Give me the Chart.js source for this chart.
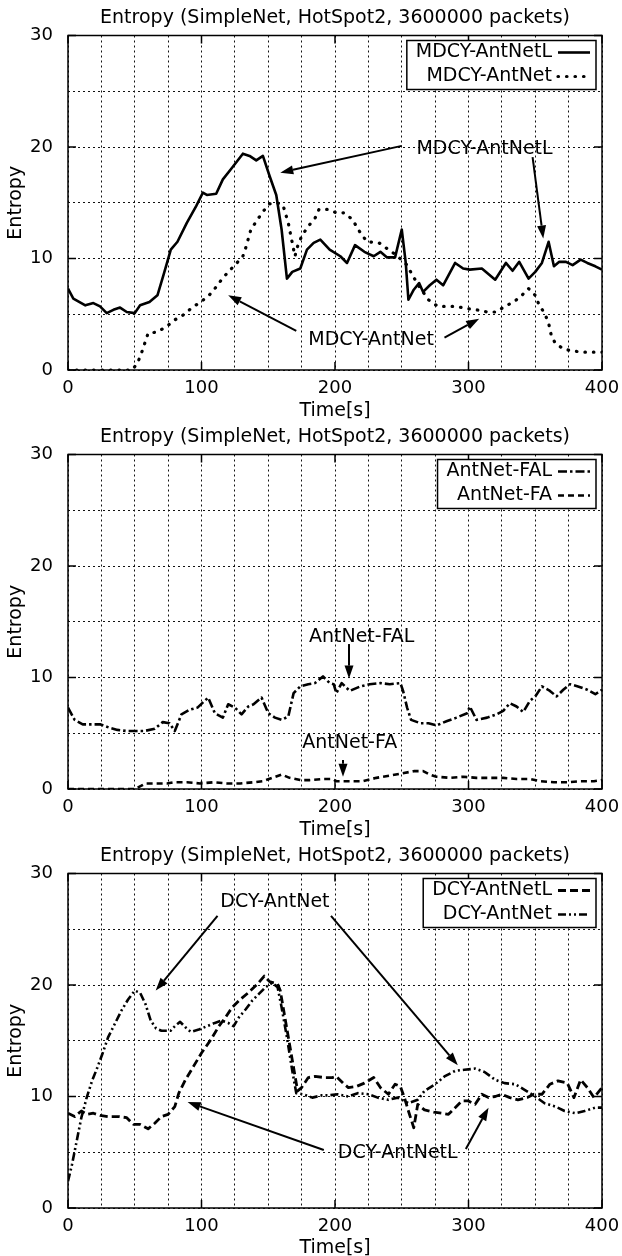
<!DOCTYPE html>
<html>
<head>
<meta charset="utf-8">
<script src="https://cdn.jsdelivr.net/npm/chart.js@4.4.1/dist/chart.umd.min.js"></script>
<style>
  body { margin: 0; background: #fff; }
  canvas { display: block; }
</style>
</head>
<body>
<canvas id="panel1" width="622" height="419"></canvas>
<canvas id="panel2" width="622" height="419"></canvas>
<canvas id="panel3" width="622" height="418"></canvas>
<script>
// Tick labels
const timeTicks = [0, 100, 200, 300, 400];
const entropyTicks = [0, 10, 20, 30];
const chartTitle = 'Entropy (SimpleNet, HotSpot2, 3600000 packets)';

// Series: [time s, entropy]
const mdcyAntNetL = [[0,7.3],[4,6.4],[13,5.8],[19,6.0],[24,5.7],[29,5.1],[34,5.4],[39,5.6],[44,5.2],[50,5.1],
  [54,5.8],[61,6.1],[67,6.7],[72,8.7],[77,10.8],[82,11.5],[89,13.2],[96,14.7],[101,15.9],[104,15.7],
  [111,15.8],[116,17.1],[122,18.0],[131,19.4],[136,19.2],[141,18.8],[146,19.2],[151,17.4],[156,15.7],[160,12.6],
  [164,8.2],[168,8.8],[174,9.1],[179,10.8],[184,11.4],[189,11.7],[196,10.8],[204,10.2],[209,9.6],[215,11.2],
  [222,10.6],[229,10.2],[234,10.6],[239,10.1],[245,10.1],[250,12.6],[253,9.6],[255,6.3],[259,7.2],[263,7.8],
  [266,7.0],[271,7.6],[276,8.1],[281,7.6],[290,9.6],[296,9.1],[301,9.0],[310,9.1],[320,8.1],[328,9.6],
  [333,8.9],[338,9.7],[345,8.2],[350,8.8],[355,9.6],[360,11.5],[364,9.3],[368,9.7],[373,9.7],[378,9.4],
  [384,9.9],[389,9.6],[395,9.3],[400,9.0]];

const mdcyAntNet = [[0,0],[10,0],[20,0],[30,0],[40,0],[48,0],[52,0.6],[55,1.5],[60,3.3],[67,3.4],
  [75,4.0],[80,4.5],[86,4.9],[92,5.5],[98,6.0],[105,6.6],[110,7.3],[115,8.1],[120,8.8],[125,9.4],
  [131,10.2],[133,10.9],[137,12.6],[142,13.5],[146,14.2],[151,14.9],[156,15.0],[161,14.8],[165,13.2],[167,12.0],
  [170,10.2],[172,11.1],[175,12.0],[180,12.9],[185,13.6],[188,14.4],[195,14.4],[201,14.1],[207,14.1],[213,13.5],
  [219,12.3],[224,11.5],[233,11.4],[240,10.8],[247,10.2],[254,9.4],[258,8.5],[263,7.5],[270,6.3],[277,5.7],
  [284,5.7],[291,5.7],[299,5.5],[306,5.4],[314,5.2],[321,5.2],[327,5.7],[334,6.1],[340,6.7],[345,7.3],
  [350,6.7],[353,5.8],[357,5.1],[360,4.2],[362,3.1],[365,2.4],[371,1.9],[378,1.7],[386,1.6],[393,1.6],[400,1.6]];

const antNetFAL = [[0,7.3],[5,6.2],[11,5.8],[17,5.8],[24,5.8],[31,5.5],[37,5.3],[44,5.2],[50,5.2],[57,5.2],
  [65,5.4],[71,6.0],[76,5.9],[80,5.2],[85,6.7],[91,7.1],[97,7.3],[105,8.2],[110,6.8],[116,6.4],
  [120,7.6],[125,7.3],[130,6.7],[135,7.4],[139,7.6],[145,8.2],[150,6.8],[155,6.4],[160,6.2],[165,6.5],
  [169,8.6],[174,9.2],[180,9.4],[185,9.5],[191,10.1],[196,9.5],[199,9.4],[201,8.6],[205,9.5],[211,8.8],
  [219,9.2],[226,9.4],[234,9.5],[241,9.4],[249,9.5],[251,8.8],[254,7.3],[257,6.2],[264,5.9],[270,5.9],
  [276,5.7],[284,6.1],[291,6.4],[299,6.8],[301,7.4],[306,6.2],[314,6.4],[321,6.7],[326,7.0],[331,7.7],
  [336,7.4],[341,6.9],[346,7.9],[350,8.3],[355,9.2],[361,8.8],[366,8.3],[371,8.9],[376,9.4],[382,9.2],
  [389,8.9],[395,8.5],[400,8.9]];

const antNetFA = [[0,0],[10,0],[20,0],[30,0],[40,0],[50,0],[55,0.3],[58,0.5],[64,0.5],[74,0.5],
  [79,0.6],[89,0.6],[99,0.5],[109,0.6],[119,0.5],[129,0.5],[139,0.6],[146,0.7],[153,1.0],[160,1.3],
  [166,1.0],[174,0.8],[181,0.8],[191,0.9],[198,0.9],[201,0.7],[211,0.7],[221,0.7],[231,1.0],[241,1.2],
  [250,1.4],[259,1.6],[266,1.6],[271,1.3],[276,1.1],[286,1.0],[296,1.1],[306,1.0],[316,1.0],[326,1.0],
  [336,0.9],[346,0.9],[354,0.7],[364,0.6],[374,0.6],[384,0.7],[394,0.7],[400,0.8]];

const dcyAntNetL = [[0,8.5],[5,8.2],[10,8.7],[14,8.4],[19,8.5],[24,8.3],[30,8.2],[38,8.2],[44,8.1],[49,7.5],
  [54,7.5],[60,7.1],[65,7.6],[70,8.2],[75,8.4],[80,9.1],[83,10.3],[88,11.5],[94,12.7],[100,13.9],
  [107,15.1],[113,16.3],[118,17.1],[123,18.0],[129,18.7],[135,19.3],[142,20.1],[147,20.8],[151,20.3],[157,20.1],
  [159,19.5],[172,10.5],[175,10.8],[180,11.7],[185,11.8],[192,11.7],[198,11.7],[201,11.8],[206,11.2],[210,10.8],
  [216,10.9],[222,11.2],[229,11.7],[234,10.8],[240,10.2],[245,11.1],[249,10.9],[252,9.9],[255,8.7],[259,7.2],
  [262,9.3],[267,8.8],[274,8.6],[280,8.5],[285,8.4],[290,9.0],[295,9.6],[300,9.6],[305,9.3],[310,10.2],
  [315,9.9],[320,10.0],[325,10.2],[331,9.9],[337,9.7],[344,9.9],[349,10.2],[355,10.2],[361,11.1],[367,11.4],
  [374,11.2],[379,9.9],[384,11.5],[389,10.8],[394,9.9],[400,10.8]];

const dcyAntNet = [[0,2.4],[3,3.9],[7,6.3],[10,8.1],[14,9.9],[18,11.4],[22,12.6],[26,13.9],[30,15.3],[35,16.5],
  [40,17.7],[45,18.7],[50,19.5],[54,19.3],[58,18.3],[62,16.8],[66,16.1],[70,15.9],[77,15.9],[80,16.3],
  [84,16.7],[88,16.2],[92,15.8],[98,16.0],[104,16.3],[110,16.6],[115,16.8],[120,16.6],[124,16.3],[128,17.1],
  [133,17.8],[138,18.6],[143,19.2],[148,19.8],[153,20.2],[157,19.8],[160,18.0],[164,15.3],[168,12.3],[171,10.3],
  [176,10.2],[183,9.9],[190,10.1],[195,10.1],[202,10.2],[210,10.0],[217,10.3],[225,10.2],[232,9.9],[240,9.7],
  [247,9.9],[255,9.4],[262,9.7],[267,10.5],[275,11.1],[282,11.8],[290,12.3],[297,12.4],[305,12.5],[312,12.2],
  [320,11.5],[327,11.2],[335,11.1],[342,10.6],[350,10.0],[357,9.4],[365,9.1],[372,8.7],[380,8.5],[387,8.7],
  [395,9.0],[400,9.0]];

// gnuplot-like line types
const lineTypes = {
  solid:      { borderDash: [], borderWidth: 2.6 },
  dotted:     { borderDash: [0.5, 8], borderWidth: 3.2, borderCapStyle: 'round' },
  dashDot:    { borderDash: [9, 3, 2.5, 3], borderWidth: 2.6 },
  dashed:     { borderDash: [6, 4], borderWidth: 2.6 },
  longDash:   { borderDash: [8, 4], borderWidth: 2.8 },
  dashDotDot: { borderDash: [8, 3, 2, 3, 2, 3], borderWidth: 2.6 }
};

const FONT = 'DejaVu Sans';
Chart.defaults.font.family = FONT;
Chart.defaults.font.size = 18;
Chart.defaults.color = '#000';

function series(label, points, type) {
  return Object.assign({
    label: label,
    data: points.map(p => ({ x: p[0], y: p[1] })),
    borderColor: '#000',
    borderJoinStyle: 'round',
    pointRadius: 0,
    tension: 0,
    fill: false
  }, lineTypes[type]);
}

function drawArrow(ctx, x1, y1, x2, y2) {
  const ang = Math.atan2(y2 - y1, x2 - x1);
  const len = 13, half = 4.5;
  const bx = x2 - len * Math.cos(ang), by = y2 - len * Math.sin(ang);
  ctx.beginPath();
  ctx.moveTo(x1, y1);
  ctx.lineTo(bx, by);
  ctx.stroke();
  ctx.beginPath();
  ctx.moveTo(x2, y2);
  ctx.lineTo(bx + half * Math.sin(ang), by - half * Math.cos(ang));
  ctx.lineTo(bx - half * Math.sin(ang), by + half * Math.cos(ang));
  ctx.closePath();
  ctx.fill();
}

// frame, inward ticks, labels with arrows, boxed legend
function gnuplotLook(notes) {
  return {
    id: 'gnuplotLook',
    afterDatasetsDraw(chart) {
      const { ctx, chartArea: a, scales: { x, y } } = chart;
      ctx.save();
      ctx.strokeStyle = '#000';
      ctx.fillStyle = '#000';
      ctx.setLineDash([]);
      ctx.lineWidth = 1.5;
      ctx.strokeRect(a.left, a.top, a.right - a.left, a.bottom - a.top);

      ctx.beginPath();
      timeTicks.forEach(t => {
        const px = x.getPixelForValue(t);
        ctx.moveTo(px, a.bottom); ctx.lineTo(px, a.bottom - 8);
        ctx.moveTo(px, a.top); ctx.lineTo(px, a.top + 8);
      });
      entropyTicks.forEach(v => {
        const py = y.getPixelForValue(v);
        ctx.moveTo(a.left, py); ctx.lineTo(a.left + 8, py);
        ctx.moveTo(a.right, py); ctx.lineTo(a.right - 8, py);
      });
      ctx.stroke();

      // annotations
      ctx.font = '19px ' + FONT;
      ctx.textAlign = 'center';
      ctx.textBaseline = 'middle';
      notes.labels.forEach(n => {
        ctx.fillText(n.text, x.getPixelForValue(n.at[0]), y.getPixelForValue(n.at[1]));
      });
      ctx.lineWidth = 2;
      notes.arrows.forEach(ar => {
        drawArrow(ctx, x.getPixelForValue(ar.from[0]), y.getPixelForValue(ar.from[1]),
                  x.getPixelForValue(ar.to[0]), y.getPixelForValue(ar.to[1]));
      });

      // legend
      const sets = chart.data.datasets;
      const boxRight = a.right - 6, boxTop = a.top + 5, rowH = 24;
      const textRight = boxRight - 44;
      let maxW = 0;
      sets.forEach(d => { maxW = Math.max(maxW, ctx.measureText(d.label).width); });
      const boxLeft = textRight - maxW - 9;
      const boxH = rowH * sets.length + 1;
      ctx.fillStyle = '#fff';
      ctx.fillRect(boxLeft, boxTop, boxRight - boxLeft, boxH);
      ctx.lineWidth = 1.5;
      ctx.strokeRect(boxLeft, boxTop, boxRight - boxLeft, boxH);
      ctx.fillStyle = '#000';
      ctx.textAlign = 'right';
      sets.forEach((d, i) => {
        const cy = boxTop + 12 + i * rowH;
        ctx.fillText(d.label, textRight, cy);
        ctx.save();
        ctx.lineWidth = d.borderWidth;
        ctx.lineCap = d.borderCapStyle || 'butt';
        ctx.setLineDash(d.borderDash);
        ctx.beginPath();
        ctx.moveTo(textRight + 6, cy);
        ctx.lineTo(boxRight - 6, cy);
        ctx.stroke();
        ctx.restore();
      });
      ctx.restore();
    }
  };
}

function makePanel(id, datasets, notes) {
  const canvas = document.getElementById(id);
  const H = canvas.height;
  new Chart(canvas, {
    type: 'line',
    data: { datasets: datasets },
    options: {
      responsive: false,
      animation: false,
      layout: { padding: { left: 0, right: 20, top: 0, bottom: 0 } },
      plugins: {
        legend: { display: false },
        tooltip: { enabled: false },
        title: {
          display: true,
          text: chartTitle,
          fullSize: false,
          color: '#000',
          font: { size: 19, weight: 'normal' },
          padding: { top: 6.6, bottom: 6.1 }
        }
      },
      scales: {
        x: {
          type: 'linear',
          min: 0, max: 400,
          afterFit: s => { s.height = H - 370; s.paddingLeft = 0; s.paddingRight = 0; },
          ticks: {
            stepSize: 25,
            autoSkip: false,
            maxRotation: 0,
            padding: 8,
            color: '#000',
            callback: v => timeTicks.includes(v) ? String(v) : ''
          },
          grid: { color: '#111', lineWidth: 1, drawTicks: false },
          border: { display: false, dash: [2, 3] },
          title: { display: true, text: 'Time[s]', color: '#000',
                   font: { size: 19, lineHeight: 0.8 }, padding: { top: 0, bottom: 0 } }
        },
        y: {
          min: 0, max: 30,
          afterFit: s => { s.width = 68; },
          ticks: {
            stepSize: 5,
            autoSkip: false,
            padding: 15,
            color: '#000',
            callback: v => entropyTicks.includes(v) ? String(v) : ''
          },
          grid: { color: '#111', lineWidth: 1, drawTicks: false },
          border: { display: false, dash: [2, 3] },
          title: { display: true, text: 'Entropy', color: '#000',
                   font: { size: 19 }, padding: { top: 5, bottom: 0 } }
        }
      }
    },
    plugins: [gnuplotLook(notes)]
  });
}

makePanel('panel1', [
  series('MDCY-AntNetL', mdcyAntNetL, 'solid'),
  series('MDCY-AntNet', mdcyAntNet, 'dotted')
], {
  labels: [
    { text: 'MDCY-AntNetL', at: [312, 19.8] },
    { text: 'MDCY-AntNet', at: [227, 2.7] }
  ],
  arrows: [
    { from: [250, 20.1], to: [159, 17.7] },
    { from: [348, 19.1], to: [356, 11.8] },
    { from: [171, 3.5], to: [120, 6.7] },
    { from: [282, 2.9], to: [308, 4.6] }
  ]
});

makePanel('panel2', [
  series('AntNet-FAL', antNetFAL, 'dashDot'),
  series('AntNet-FA', antNetFA, 'dashed')
], {
  labels: [
    { text: 'AntNet-FAL', at: [220, 13.6] },
    { text: 'AntNet-FA', at: [211, 4.1] }
  ],
  arrows: [
    { from: [210.5, 13.0], to: [210.5, 9.9] },
    { from: [206, 2.6], to: [206, 1.1] }
  ]
});

makePanel('panel3', [
  series('DCY-AntNetL', dcyAntNetL, 'longDash'),
  series('DCY-AntNet', dcyAntNet, 'dashDotDot')
], {
  labels: [
    { text: 'DCY-AntNet', at: [155, 27.4] },
    { text: 'DCY-AntNetL', at: [247, 4.9] }
  ],
  arrows: [
    { from: [112, 26.2], to: [65.7, 19.5] },
    { from: [197, 26.2], to: [292, 12.8] },
    { from: [191.6, 5.2], to: [89.6, 9.5] },
    { from: [298, 5.3], to: [315, 9.0] }
  ]
});
</script>
</body>
</html>
